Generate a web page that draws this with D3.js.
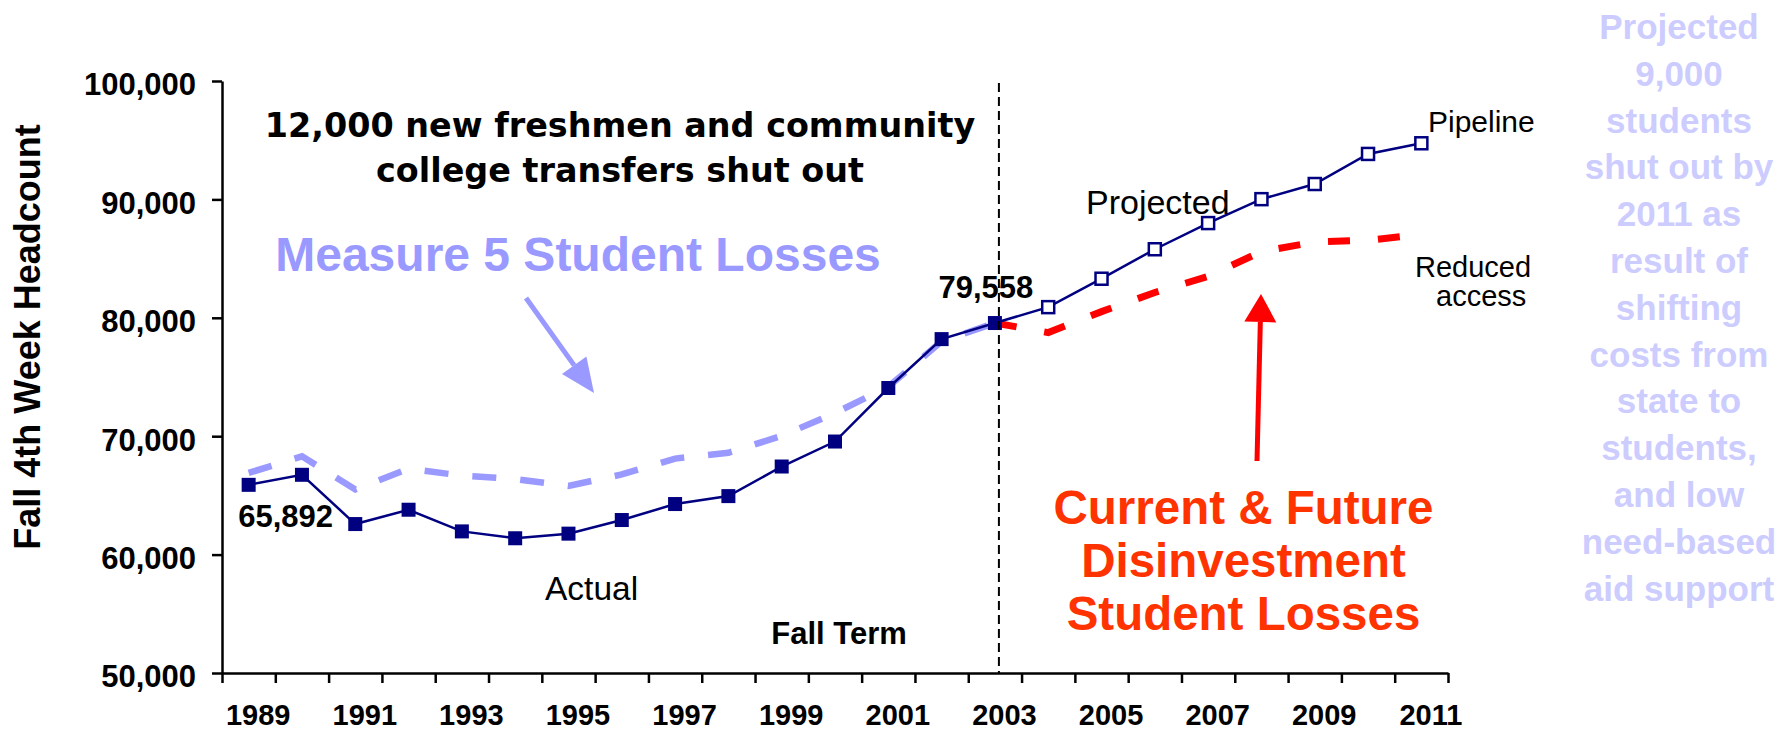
<!DOCTYPE html>
<html>
<head>
<meta charset="utf-8">
<script src="https://cdn.jsdelivr.net/npm/d3@7"></script>
<style>
body { margin: 0; background: #fff; }
svg { display: block; font-family: "Liberation Sans", Arial, sans-serif; }
</style>
</head>
<body>
<script>
const width = 1785;
const height = 733;

// data
const actualYears = [1989, 1990, 1991, 1992, 1993, 1994, 1995, 1996, 1997, 1998, 1999, 2000, 2001, 2002, 2003];
const actualValues = [65892, 66740, 62580, 63790, 61960, 61380, 61770, 62920, 64270, 64940, 67440, 69550, 74070, 78200, 79558];
const measure5Values = [66900, 68300, 65500, 67250, 66670, 66380, 65800, 66770, 68110, 68600, 70030, 71960, 74170, 78010, 79558];
const projYears = [2003, 2004, 2005, 2006, 2007, 2008, 2009, 2010, 2011];
const pipelineValues = [79558, 80900, 83300, 85790, 88000, 90020, 91300, 93840, 94740];
const reducedValues = [79558, 78750, 80520, 82140, 83500, 85600, 86400, 86550, 87040];
const yTicks = [50000, 60000, 70000, 80000, 90000, 100000];
const yearLabels = [1989, 1991, 1993, 1995, 1997, 1999, 2001, 2003, 2005, 2007, 2009, 2011];
const headline = ["12,000 new freshmen and community", "college transfers shut out"];
const redNote = ["Current & Future", "Disinvestment", "Student Losses"];
const sideNote = ["Projected", "9,000", "students", "shut out by", "2011 as", "result of",
  "shifting", "costs from", "state to", "students,", "and low", "need-based", "aid support"];

const navy = "#000080";

const svg = d3.select("body").append("svg")
    .attr("width", width)
    .attr("height", height);

const x = d3.scaleLinear().domain([1988.5, 2011.5]).range([222, 1448]);
const y = d3.scaleLinear().domain([50000, 100000]).range([673, 81]);

const zip = (ys, vs) => ys.map((yr, i) => ({year: yr, value: vs[i]}));
const actual = zip(actualYears, actualValues);
const measure5 = zip(actualYears, measure5Values);
const pipeline = zip(projYears, pipelineValues);
const reduced = zip(projYears, reducedValues);

const line = d3.line()
    .x(d => x(d.year))
    .y(d => y(d.value));

// axes
const gy = svg.append("g")
    .attr("transform", `translate(${x.range()[0]},0)`)
    .call(d3.axisLeft(y).tickValues(yTicks).tickSize(10).tickSizeOuter(0)
      .tickPadding(16).tickFormat(d3.format(",")));
gy.selectAll("text")
    .attr("dy", "0.45em")
    .style("font-size", "31px")
    .style("font-weight", "bold")
    .style("font-family", "'Liberation Sans', Arial, sans-serif")
    .attr("fill", "#000");

const gx = svg.append("g")
    .attr("transform", `translate(0,${y.range()[0]})`)
    .call(d3.axisBottom(x).tickValues(d3.range(1988.5, 2012, 1)).tickSize(10)
      .tickSizeOuter(0).tickFormat(""));

const gxl = svg.append("g")
    .attr("transform", `translate(0,${y.range()[0]})`)
    .call(d3.axisBottom(x).tickValues(yearLabels).tickSize(0).tickFormat(d3.format("d")));
gxl.select(".domain").remove();
gxl.selectAll("text")
    .attr("y", 52)
    .attr("dy", null)
    .attr("dx", 9)
    .style("font-size", "29px")
    .style("font-weight", "bold")
    .style("font-family", "'Liberation Sans', Arial, sans-serif")
    .attr("fill", "#000");

[gy, gx].forEach(g => {
  g.selectAll(".domain, line").attr("stroke", "#000").attr("stroke-width", 2.5);
});

// axis titles
svg.append("text")
    .attr("transform", `translate(40,337) rotate(-90)`)
    .attr("text-anchor", "middle")
    .style("font-size", "36px")
    .style("font-weight", "bold")
    .text("Fall 4th Week Headcount");

svg.append("text")
    .attr("x", 839).attr("y", 644)
    .attr("text-anchor", "middle")
    .style("font-size", "31px")
    .style("font-weight", "bold")
    .text("Fall Term");

// dashed series
svg.append("path")
    .datum(measure5)
    .attr("d", line)
    .attr("fill", "none")
    .attr("stroke", "#9999ff")
    .attr("stroke-width", 6.5)
    .attr("stroke-dasharray", "24,24");

svg.append("path")
    .datum(reduced)
    .attr("d", line)
    .attr("fill", "none")
    .attr("stroke", "#ff0000")
    .attr("stroke-width", 7)
    .attr("stroke-dasharray", "22,28");

// solid series
svg.append("path")
    .datum(actual)
    .attr("d", line)
    .attr("fill", "none")
    .attr("stroke", navy)
    .attr("stroke-width", 2.5);

svg.append("path")
    .datum(pipeline)
    .attr("d", line)
    .attr("fill", "none")
    .attr("stroke", navy)
    .attr("stroke-width", 2.5);

svg.selectAll(".actual-mark")
    .data(actual)
  .enter().append("rect")
    .attr("class", "actual-mark")
    .attr("x", d => x(d.year) - 7)
    .attr("y", d => y(d.value) - 7)
    .attr("width", 14).attr("height", 14)
    .attr("fill", navy);

svg.selectAll(".proj-mark")
    .data(pipeline.slice(1))
  .enter().append("rect")
    .attr("class", "proj-mark")
    .attr("x", d => x(d.year) - 6)
    .attr("y", d => y(d.value) - 6)
    .attr("width", 12).attr("height", 12)
    .attr("fill", "#fff")
    .attr("stroke", navy)
    .attr("stroke-width", 2.5);

// value labels
svg.append("text")
    .attr("x", x(actual[0].year) + 37)
    .attr("y", y(actual[0].value) + 42)
    .attr("text-anchor", "middle")
    .style("font-size", "31px")
    .style("font-weight", "bold")
    .text(d3.format(",")(actual[0].value));

const last = actual[actual.length - 1];
svg.append("text")
    .attr("x", x(last.year) - 9)
    .attr("y", y(last.value) - 25)
    .attr("text-anchor", "middle")
    .style("font-size", "31px")
    .style("font-weight", "bold")
    .text(d3.format(",")(last.value));

// divider between actual and projected
svg.append("line")
    .attr("x1", x(2003) + 4).attr("x2", x(2003) + 4)
    .attr("y1", y(100000) + 2).attr("y2", y(50000))
    .attr("stroke", "#000")
    .attr("stroke-width", 2)
    .attr("stroke-dasharray", "9,5");

// series labels
const label = (tx, ty, txt, size, anchor) => svg.append("text")
    .attr("x", tx).attr("y", ty)
    .attr("text-anchor", anchor || "start")
    .style("font-size", size + "px")
    .text(txt);

label(1086, 214, "Projected", 34);
label(545, 600, "Actual", 33.5);
label(1428, 132, "Pipeline", 30);
label(1415, 277, "Reduced", 29);
label(1436, 306, "access", 29);

// headline
svg.append("text")
    .attr("text-anchor", "middle")
    .style("font-family", "'DejaVu Sans', Verdana, sans-serif")
    .style("font-weight", "bold")
    .style("font-size", "33.4px")
    .selectAll("tspan")
    .data(headline)
  .enter().append("tspan")
    .attr("x", 620)
    .attr("y", (d, i) => 137 + i * 45)
    .text(d => d);

// measure 5 annotation
svg.append("text")
    .attr("x", 578).attr("y", 271)
    .attr("text-anchor", "middle")
    .style("font-size", "48px")
    .style("font-weight", "bold")
    .attr("fill", "#9999ff")
    .text("Measure 5 Student Losses");

function arrow(x1, y1, x2, y2, color, w, headLen, headHalf) {
  const dx = x2 - x1, dy = y2 - y1, L = Math.hypot(dx, dy);
  const ux = dx / L, uy = dy / L;
  const bx = x2 - ux * headLen, by = y2 - uy * headLen;
  svg.append("line")
      .attr("x1", x1).attr("y1", y1)
      .attr("x2", bx).attr("y2", by)
      .attr("stroke", color)
      .attr("stroke-width", w);
  svg.append("polygon")
      .attr("points", [[x2, y2], [bx - uy * headHalf, by + ux * headHalf], [bx + uy * headHalf, by - ux * headHalf]].join(" "))
      .attr("fill", color);
}

arrow(526, 298, 594, 393, "#9999ff", 5, 34, 15);
arrow(1257, 461, 1261, 294, "#ff0000", 5, 28, 16);

// disinvestment annotation
svg.append("text")
    .attr("text-anchor", "middle")
    .style("font-weight", "bold")
    .style("font-size", "47.5px")
    .attr("fill", "#ff3300")
    .selectAll("tspan")
    .data(redNote)
  .enter().append("tspan")
    .attr("x", 1243.5)
    .attr("y", (d, i) => 524 + i * 53)
    .text(d => d);

// side note
svg.append("text")
    .attr("text-anchor", "middle")
    .style("font-weight", "bold")
    .style("font-size", "35px")
    .attr("fill", "#ccccff")
    .selectAll("tspan")
    .data(sideNote)
  .enter().append("tspan")
    .attr("x", 1679)
    .attr("y", (d, i) => 39 + i * 46.8)
    .text(d => d);
</script>
</body>
</html>
